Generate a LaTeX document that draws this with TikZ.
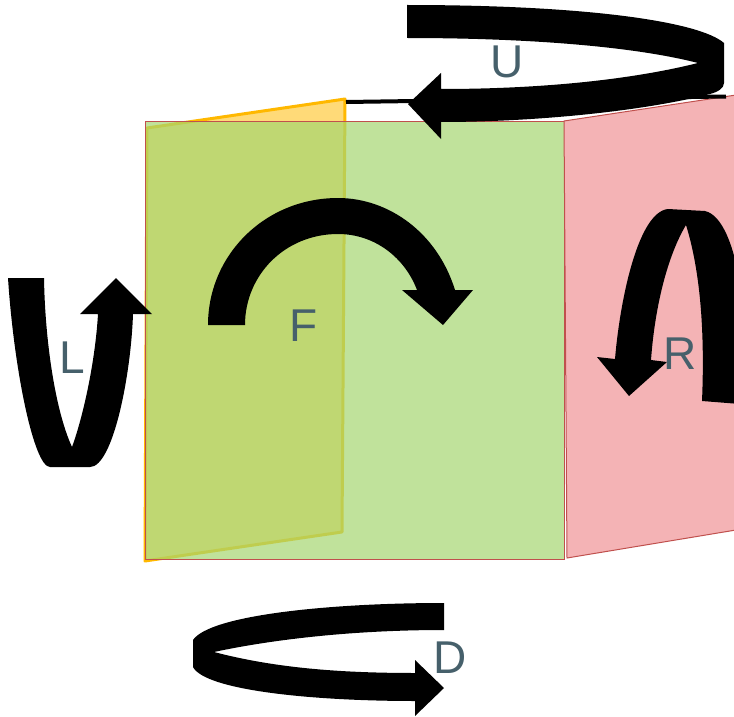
\documentclass[tikz,border=0pt]{standalone}
\usepackage{fontspec}
\setmainfont{Liberation Sans}
\usepackage{tikz}
\begin{document}
\begin{tikzpicture}[
        x=1pt,
        y=-1pt,
        band/.style={
            fill=black,
            draw=none
        },
        letter/.style={
            text=letterblue,
            font=\fontsize{46}{46}\selectfont,
            inner sep=0pt
        },
        frontface/.style={
            fill=frontgreen,
            fill opacity=0.7,
            draw=edgered,
            line width=1pt
        },
        sideface/.style={
            fill=sidepink,
            draw=edgered,
            line width=1pt
        },
        panel/.style={
            fill=panelfill,
            draw=panelyellow,
            line width=3pt,
            line join=round
        }
    ]
    \definecolor{letterblue}{HTML}{46606B}
    \definecolor{frontgreen}{HTML}{A5D670}
    \definecolor{sidepink}{HTML}{F4B3B5}
    \definecolor{edgered}{HTML}{C0504D}
    \definecolor{panelyellow}{HTML}{FFB800}
    \definecolor{panelfill}{HTML}{FFDA78}

    \useasboundingbox (0,0) rectangle (734,717);
    \clip (0,0) rectangle (734,717);

    % Faces
    \draw[panel] (147,128) -- (345,99) -- (342,532) -- (145,561) -- cycle;
    \draw[frontface] (145,121) rectangle (564,559);
    \draw[sideface] (564,121) -- (736,95) -- (736,530) -- (567,558) -- cycle;

    % Rear edge
    \draw[line width=4pt] (346,102) -- (726,96.5);

    % U
    \draw[band] (407,5) .. controls (590,5) and (700,22) .. (724,43)
        -- (724,83) .. controls (724,88) and (718,92) .. (710,94)
        .. controls (640,112) and (530,122) .. (441,122)
        -- (441,139) -- (408,104) -- (441,73) -- (441,89)
        .. controls (540,89) and (630,80) .. (698,63)
        .. controls (640,48) and (540,38) .. (407,38) -- cycle;

    % F
    \draw[band] (208,325) .. controls (208,255) and (265,198) .. (338,198)
        .. controls (388,198) and (437,232) .. (455,290)
        -- (473,290) -- (443,325) -- (402,290) -- (417,290)
        .. controls (405,258) and (375,234) .. (338,234)
        .. controls (285,234) and (245,275) .. (245,325) -- cycle;

    % L
    \draw[band] (8,278) -- (44,278)
        .. controls (45,340) and (55,410) .. (72,447)
        .. controls (82,420) and (95,365) .. (98,314)
        -- (80,314) -- (116,278) -- (152,314) -- (133,314)
        .. controls (131,375) and (113,467) .. (90,467)
        -- (50,467) .. controls (34,467) and (14,370) .. (8,278) -- cycle;

    % R
    \draw[band] (668,209) -- (705,211)
        .. controls (722,215) and (734,245) .. (740,285)
        -- (740,404) -- (702,401)
        .. controls (705,330) and (700,270) .. (686,225)
        .. controls (668,255) and (655,305) .. (651,360)
        -- (667,362) -- (629,396) -- (597,357) -- (615,359)
        .. controls (620,300) and (638,212) .. (668,209) -- cycle;

    % D
    \draw[band] (444,603) .. controls (330,603) and (210,615) .. (193,640)
        -- (193,667) .. controls (205,690) and (310,701) .. (415,701)
        -- (415,716) -- (444,688) -- (415,660) -- (415,673)
        .. controls (340,673) and (275,668) .. (214,652)
        .. controls (270,640) and (350,630) .. (444,630) -- cycle;

    % Labels
    \node[letter] (labelU) at (507,62) {U};
    \node[letter] (labelF) at (304,326) {F};
    \node[letter] (labelL) at (72,358) {L};
    \node[letter] (labelR) at (680,354) {R};
    \node[letter] (labelD) at (450,658) {D};
\end{tikzpicture}
\end{document}
